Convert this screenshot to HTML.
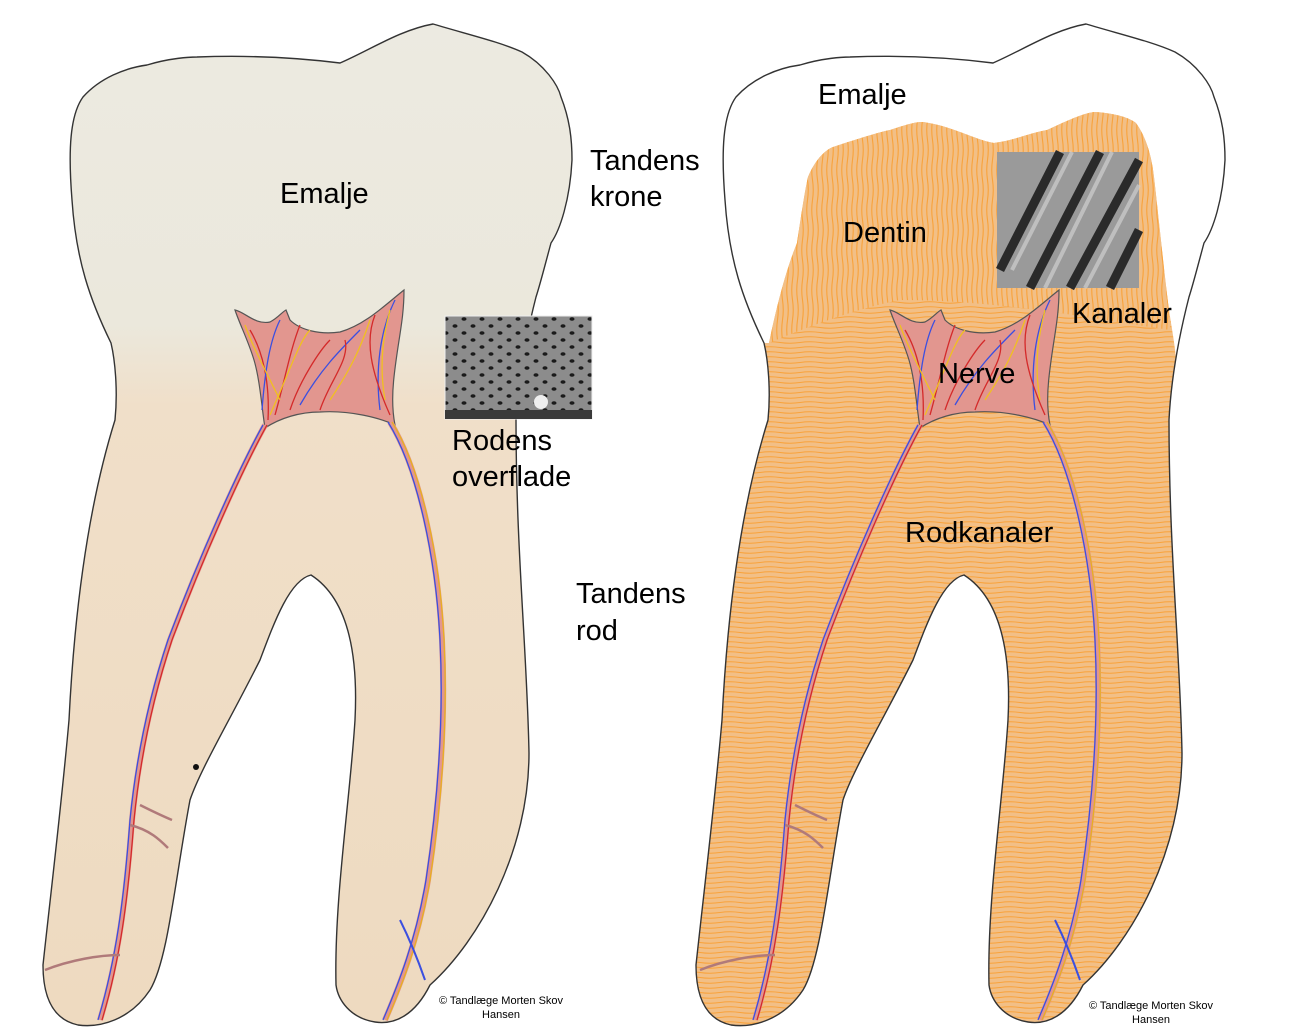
<!DOCTYPE html>
<html><head><meta charset="utf-8"><style>
html,body{margin:0;padding:0;background:#fff;}
svg{display:block;}
text{font-family:"Liberation Sans",sans-serif;fill:#000;}
</style></head><body>
<svg width="1290" height="1033" viewBox="0 0 1290 1033" xmlns="http://www.w3.org/2000/svg">
<defs>
<linearGradient id="tg" x1="0" y1="0" x2="0" y2="1">
<stop offset="0" stop-color="#eceae1"/><stop offset="0.3" stop-color="#ebe8dc"/>
<stop offset="0.38" stop-color="#f0dfc9"/><stop offset="1" stop-color="#eedac0"/>
</linearGradient>
<path id="tooth" d="M111,343 C90,300 76,260 72,200 C68,150 70,115 83,97 C100,78 125,68 147,65 C170,58 190,57 197,57 C250,55 300,58 340,63 C370,50 400,30 433,24 C470,35 500,42 522,52 C545,65 558,85 561,97 C570,120 572,140 572,160 C570,200 560,230 551,243 C545,265 540,285 536,297 C525,340 518,380 516,420 C516,550 527,650 529,753 C529,850 480,940 430,985 C415,1015 395,1025 375,1022 C350,1018 338,1000 336,985 C334,900 350,800 355,720 C358,660 350,600 311,575 C290,580 275,620 260,660 C230,720 200,770 190,800 C175,880 168,960 150,990 C130,1020 100,1028 78,1025 C55,1020 43,1000 43,965 C50,900 62,800 69,720 C75,600 90,500 115,420 C118,390 115,360 111,343 Z"/>
<clipPath id="rc"><use href="#tooth" transform="translate(653,0)"/></clipPath>
<pattern id="hl" width="40" height="5" patternUnits="userSpaceOnUse">
<rect width="40" height="5" fill="#f2bf86"/>
<path d="M0,2.5 Q10,1 20,2.5 T40,2.5" stroke="#f9a23a" stroke-width="1.1" fill="none"/>
</pattern>
<pattern id="vl" width="5" height="40" patternUnits="userSpaceOnUse">
<rect width="5" height="40" fill="#f2bf86"/>
<path d="M2.5,0 Q1,10 2.5,20 T2.5,40" stroke="#f9a23a" stroke-width="1.1" fill="none"/>
</pattern>
<pattern id="dots" width="18" height="14" patternUnits="userSpaceOnUse">
<rect width="18" height="14" fill="#8c8c8c"/>
<ellipse cx="5" cy="4" rx="2.5" ry="1.8" fill="#1a1a1a"/>
<ellipse cx="14" cy="11" rx="2.5" ry="1.8" fill="#1a1a1a"/>
</pattern>
<g id="pulp">
<path d="M235,310 C245,312 255,325 270,322 C278,318 282,312 286,310 L290,320 C300,330 320,335 340,332 C365,325 385,305 404,290 C404,320 398,340 394,377 C392,395 392,410 395,425 C380,418 350,410 320,412 C300,412 280,418 265,428 C262,410 260,380 254,360 C248,340 240,325 235,310 Z" fill="#e2968f" stroke="#555" stroke-width="1.2"/>
<path d="M265,425 C240,470 200,560 170,640 C150,700 138,760 132,820 C126,900 118,960 100,1020" stroke="#e2968f" stroke-width="6" fill="none"/>
<path d="M390,422 C420,470 438,560 442,640 C446,720 440,800 428,880 C418,940 400,985 385,1020" stroke="#e2968f" stroke-width="6" fill="none"/>
<g fill="none" stroke-width="1.3">
<path d="M263,425 C238,470 198,560 168,640 C148,700 136,760 130,820 C124,900 116,960 98,1020" stroke="#3b4fe0"/>
<path d="M267,425 C242,470 202,560 172,640 C152,700 140,760 134,820 C128,900 120,960 102,1020" stroke="#d42a2a"/>
<path d="M388,422 C418,470 436,560 440,640 C444,720 438,800 426,880 C416,940 398,985 383,1020" stroke="#3b4fe0"/>
<path d="M392,422 C422,470 440,560 444,640 C448,720 442,800 430,880 C420,940 402,985 387,1020" stroke="#e8b020"/>
<path d="M268,420 C270,380 262,350 250,330 M275,415 C285,380 290,350 300,325 M290,410 C300,380 320,350 330,340" stroke="#d42a2a"/>
<path d="M262,410 C265,370 270,340 280,320 M300,405 C320,370 340,350 360,330 M380,410 C375,370 380,330 395,300" stroke="#3b4fe0"/>
<path d="M270,415 C290,370 300,340 310,330 M330,400 C350,370 360,350 370,320 M385,400 C378,360 385,330 390,310 M280,400 C260,360 250,340 245,325" stroke="#f0c020"/>
<path d="M320,410 C330,380 350,360 345,340 M390,415 C370,370 365,340 375,315" stroke="#d42a2a"/>
</g>
<path d="M172,820 C160,815 150,810 140,805 M120,955 C100,955 70,960 45,970 M130,825 C150,830 160,840 168,848" stroke="#b07a7a" stroke-width="2.5" fill="none"/>
<path d="M400,920 C410,940 418,960 425,980" stroke="#3b4fe0" stroke-width="2" fill="none"/>
</g>
</defs>

<use href="#tooth" fill="url(#tg)" stroke="#333" stroke-width="1.4"/>
<use href="#pulp"/>
<circle cx="196" cy="767" r="3" fill="#111"/>
<rect x="445" y="316" width="147" height="103" fill="url(#dots)" stroke="#eee" stroke-width="1"/>
<rect x="445" y="410" width="147" height="9" fill="#3a3a3a"/>
<circle cx="541" cy="402" r="7" fill="#eee"/>

<use href="#tooth" transform="translate(653,0)" fill="#fff"/>
<g clip-path="url(#rc)">
<path d="M769,343 C780,290 790,260 797,243 C802,210 805,190 808,177 C815,160 825,150 833,147 C860,138 880,132 890,130 C905,125 915,122 922,122 C950,125 975,140 994,143 C1015,140 1030,133 1047,130 C1065,122 1080,114 1094,112 C1115,113 1130,118 1136,123 C1148,140 1152,160 1154,177 C1160,230 1165,280 1169,310 C1172,330 1175,345 1176,360 L1300,360 L1300,1040 L600,1040 L600,343 Z" fill="url(#hl)"/>
<path d="M769,343 C780,290 790,260 797,243 C802,210 805,190 808,177 C815,160 825,150 833,147 C860,138 880,132 890,130 C905,125 915,122 922,122 C950,125 975,140 994,143 C1015,140 1030,133 1047,130 C1065,122 1080,114 1094,112 C1115,113 1130,118 1136,123 C1148,140 1152,160 1154,177 C1160,230 1165,280 1169,310 C1170,320 1170,325 1170,330 C1100,320 1000,300 900,300 C850,310 800,330 769,343 Z" fill="url(#vl)"/>
</g>
<use href="#tooth" transform="translate(653,0)" fill="none" stroke="#333" stroke-width="1.4"/>
<use href="#pulp" transform="translate(655,0)"/>
<g>
<rect x="997" y="152" width="142" height="136" fill="#9a9a9a"/>
<g stroke="#2a2a2a" stroke-width="9">
<line x1="1000" y1="270" x2="1060" y2="152"/>
<line x1="1030" y1="288" x2="1100" y2="152"/>
<line x1="1070" y1="288" x2="1139" y2="160"/>
<line x1="1110" y1="288" x2="1139" y2="230"/>
</g>
<g stroke="#d0d0d0" stroke-width="4" opacity="0.7">
<line x1="1012" y1="270" x2="1072" y2="152"/>
<line x1="1045" y1="288" x2="1112" y2="152"/>
<line x1="1085" y1="288" x2="1139" y2="185"/>
</g>
</g>

<g font-size="29">
<text x="280" y="203">Emalje</text>
<text x="590" y="170">Tandens</text>
<text x="590" y="206">krone</text>
<text x="452" y="450">Rodens</text>
<text x="452" y="486">overflade</text>
<text x="576" y="603">Tandens</text>
<text x="576" y="640">rod</text>
<text x="818" y="104">Emalje</text>
<text x="843" y="242">Dentin</text>
<text x="1072" y="323">Kanaler</text>
<text x="938" y="383">Nerve</text>
<text x="905" y="542">Rodkanaler</text>
</g>
<g font-size="11" text-anchor="middle">
<text x="501" y="1004">© Tandlæge Morten Skov</text>
<text x="501" y="1018">Hansen</text>
<text x="1151" y="1009">© Tandlæge Morten Skov</text>
<text x="1151" y="1023">Hansen</text>
</g>
</svg>
</body></html>
